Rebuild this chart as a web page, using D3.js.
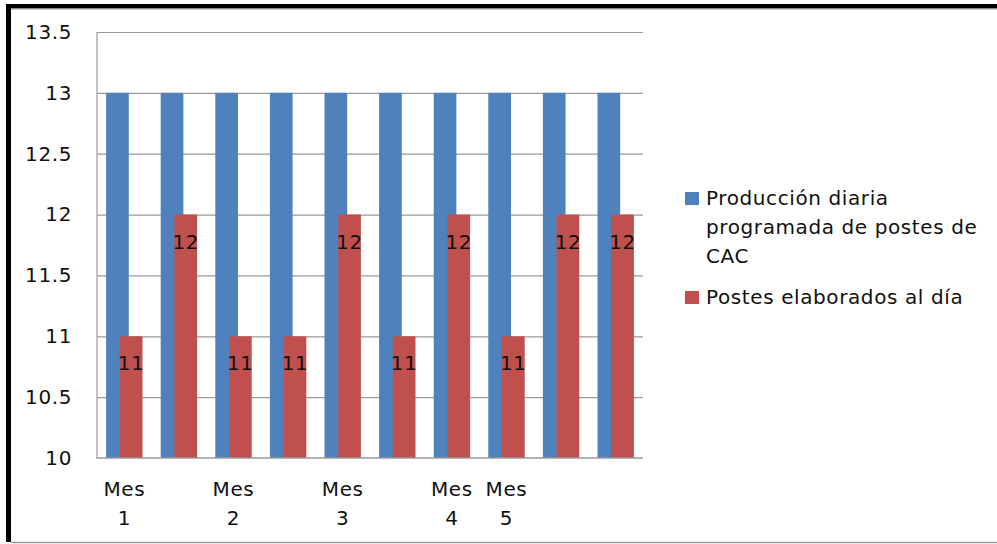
<!DOCTYPE html>
<html>
<head>
<meta charset="utf-8">
<script src="https://cdn.jsdelivr.net/npm/d3@7"></script>
<style>
  html, body { margin: 0; padding: 0; background: #fff; }
  svg { display: block; }
  text { font-family: "DejaVu Sans", sans-serif; letter-spacing: 0.6px; }
</style>
</head>
<body>
<svg id="chart" width="997" height="544"></svg>
<script>
// Monthly pole production: scheduled vs. actually produced per day
const categories = ["Mes 1", "", "Mes 2", "", "Mes 3", "", "Mes 4", "Mes 5", "", ""];
const produccionProgramada = [13, 13, 13, 13, 13, 13, 13, 13, 13, 13];
const postesElaborados = [11, 12, 11, 11, 12, 11, 12, 11, 12, 12];
const yTicks = [10, 10.5, 11, 11.5, 12, 12.5, 13, 13.5];
const seriesNames = ["Producción diaria programada de postes de CAC", "Postes elaborados al día"];
const legendLines = [["Producción diaria", "programada de postes de", "CAC"], ["Postes elaborados al día"]];
const colors = ["#4F81BD", "#C0504D"];

const FS = 20;
const svg = d3.select("#chart");
const W = 997, H = 544;
const plot = { left: 97, right: 643, top: 32, bottom: 458 };

// outer frame
svg.append("rect").attr("x", 6).attr("y", 4).attr("width", W - 6).attr("height", 4.5).attr("fill", "#000");
svg.append("rect").attr("x", 6).attr("y", 4).attr("width", 5).attr("height", H - 6).attr("fill", "#000");
svg.append("line").attr("x1", 11).attr("x2", W).attr("y1", 9).attr("y2", 9).attr("stroke", "#9a9a9a").attr("stroke-width", 1);
svg.append("line").attr("x1", 11).attr("x2", W).attr("y1", 542.5).attr("y2", 542.5).attr("stroke", "#9a9a9a").attr("stroke-width", 1.5);

const x = d3.scaleBand()
  .domain(d3.range(categories.length))
  .range([plot.left, plot.right])
  .paddingInner(1 / 3)
  .paddingOuter(1 / 6);

const y = d3.scaleLinear().domain([10, 13.5]).range([plot.bottom, plot.top]);

// bars overlap within a group
const barW = x.bandwidth() * 0.623;
const barOffset = x.bandwidth() - barW;

// gridlines
svg.append("g")
  .attr("transform", `translate(${plot.left},0)`)
  .call(d3.axisLeft(y).tickValues(yTicks.slice(1)).tickSize(-(plot.right - plot.left)).tickFormat(""))
  .call(g => g.select(".domain").remove())
  .call(g => g.selectAll("line").attr("stroke", "#9a9a9a").attr("stroke-width", 1.2));

// y axis labels
svg.append("g")
  .attr("transform", `translate(${plot.left},0)`)
  .call(d3.axisLeft(y).tickValues(yTicks).tickSize(0).tickPadding(25).tickFormat(d => String(d)))
  .call(g => g.select(".domain").remove())
  .call(g => g.selectAll("text").attr("font-size", FS).attr("fill", "#111").attr("font-family", "DejaVu Sans, sans-serif"));

// bars
const series = [produccionProgramada, postesElaborados];
series.forEach((vals, s) => {
  svg.append("g").selectAll("rect")
    .data(vals)
    .join("rect")
    .attr("x", (d, i) => x(i) + s * barOffset)
    .attr("y", d => y(d))
    .attr("width", barW)
    .attr("height", d => y(10) - y(d))
    .attr("fill", colors[s]);
});

// data labels on produced poles
svg.append("g").selectAll("text")
  .data(postesElaborados)
  .join("text")
  .attr("x", (d, i) => x(i) + barOffset + barW / 2)
  .attr("y", d => y(d) + 34)
  .attr("text-anchor", "middle")
  .attr("font-size", FS)
  .attr("fill", "#111")
  .text(d => d);

// axis lines
svg.append("line").attr("x1", plot.left).attr("x2", plot.left).attr("y1", plot.top).attr("y2", plot.bottom)
  .attr("stroke", "#9a9a9a").attr("stroke-width", 1.2);
svg.append("line").attr("x1", plot.left - 1).attr("x2", plot.right).attr("y1", plot.bottom).attr("y2", plot.bottom)
  .attr("stroke", "#9a9a9a").attr("stroke-width", 1.5);

// category labels (two lines)
const xl = svg.append("g").selectAll("text")
  .data(categories)
  .join("text")
  .attr("text-anchor", "middle")
  .attr("font-size", FS)
  .attr("fill", "#111");
xl.each(function (d, i) {
  const parts = d.split(" ");
  const t = d3.select(this);
  parts.forEach((p, k) => {
    if (!p) return;
    t.append("tspan").attr("x", x(i) + x.bandwidth() / 2).attr("y", 496 + k * 29).text(p);
  });
});

// legend
const legend = svg.append("g");
const legendY = [198, 297];
legendLines.forEach((lines, s) => {
  legend.append("rect").attr("x", 685).attr("y", legendY[s] - 6).attr("width", 14).attr("height", 13).attr("fill", colors[s]);
  const t = legend.append("text").attr("font-size", FS).attr("fill", "#111");
  lines.forEach((ln, k) => {
    t.append("tspan").attr("x", 706).attr("y", legendY[s] + 7 + k * 29).text(ln);
  });
});
</script>
</body>
</html>
